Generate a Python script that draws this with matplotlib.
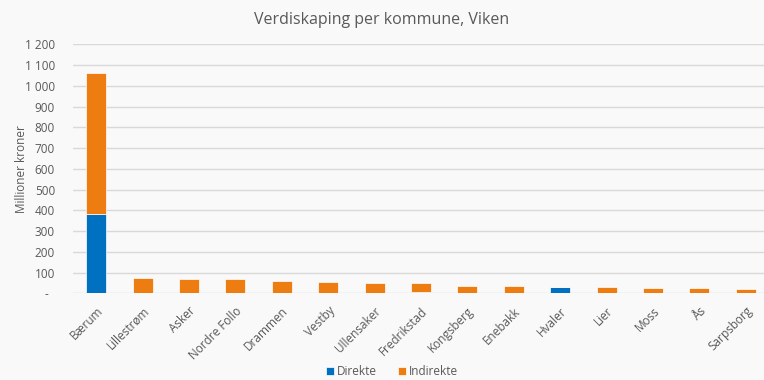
import numpy as np
import matplotlib.pyplot as plt
from matplotlib.ticker import FuncFormatter

plt.rcParams["font.family"] = ["Open Sans", "DejaVu Sans"]

kommuner = ["Bærum", "Lillestrøm", "Asker", "Nordre Follo", "Drammen", "Vestby",
            "Ullensaker", "Fredrikstad", "Kongsberg", "Enebakk", "Hvaler", "Lier",
            "Moss", "Ås", "Sarpsborg"]
direkte = [385, 0, 0, 0, 0, 0, 0, 8, 0, 0, 29, 0, 0, 0, 0]
indirekte = [675, 72, 68, 67, 59, 53, 49, 41, 35, 35, 0, 29, 27, 25, 23]

blaa = "#0070C0"
oransje = "#EE7D11"
tekst = "#595959"
bakgrunn = "#FAF9F9"

fig = plt.figure(figsize=(7.64, 3.80), dpi=100, facecolor=bakgrunn)
ax = fig.add_axes([73 / 764, 0.228, 696 / 764, 0.655], facecolor=bakgrunn)

x = np.arange(len(kommuner))
ax.bar(x, direkte, width=0.43, color=blaa, edgecolor="white", linewidth=0.5,
       label="Direkte", zorder=3)
ax.bar(x, indirekte, width=0.43, bottom=direkte, color=oransje, edgecolor="white",
       linewidth=0.5, label="Indirekte", zorder=3)

ax.set_xlim(-0.5, len(kommuner) - 0.5)
ax.set_ylim(0, 1200)
ax.set_yticks(np.arange(0, 1201, 100))


def fmt(v, pos):
    if v == 0:
        return "-  "
    return f"{int(v):,}".replace(",", " ")


ax.yaxis.set_major_formatter(FuncFormatter(fmt))
ax.grid(axis="y", color="#D9D9D9", linewidth=1, zorder=0)
for s in ax.spines.values():
    s.set_visible(False)
ax.tick_params(axis="both", length=0, colors=tekst, labelsize=8.5)
ax.tick_params(axis="y", pad=13)
ax.set_xticks(x)
ax.set_xticklabels(kommuner, rotation=45, ha="right", rotation_mode="anchor")
ax.tick_params(axis="x", pad=8)

ax.set_ylabel("Millioner kroner", color=tekst, fontsize=8.5)
ax.yaxis.set_label_coords(-73 / 696 + 28 / 696, 0.5)
fig.text(0.5, 0.948, "Verdiskaping per kommune, Viken", ha="center", va="center",
         color=tekst, fontsize=11.5)

fig.legend(loc="center", bbox_to_anchor=(0.513, 0.022), ncol=2, frameon=False,
           fontsize=8.5, labelcolor=tekst, handlelength=0.7, handleheight=0.7,
           handletextpad=0.2, columnspacing=1.8, borderaxespad=0)

fig.savefig("out.png", dpi=100, facecolor=bakgrunn)
